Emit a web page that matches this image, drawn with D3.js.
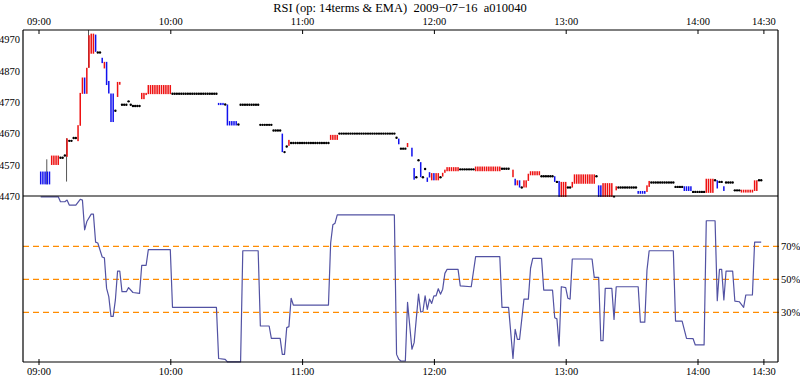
<!DOCTYPE html>
<html>
<head>
<meta charset="utf-8">
<script src="https://cdn.jsdelivr.net/npm/d3@7.9.0/dist/d3.min.js"></script>
<style>
  body { margin: 0; background: #fff; }
  svg { display: block; font-family: 'Liberation Serif', 'Times New Roman', serif; }
</style>
</head>
<body>
<svg id="chart" width="800" height="378"></svg>
<script>
const title = 'RSI (op: 14terms & EMA)  2009\u221207\u221216  a010040';
const timeTicks = ['09:00', '10:00', '11:00', '12:00', '13:00', '14:00', '14:30'];
const priceTicks = [4470, 4570, 4670, 4770, 4870, 4970];
const rsiLevels = [30, 50, 70];

// one bar per minute, written as runs: [minute after 09:00, bars in run, open, close]
const priceRuns = [
  [1, 5, 4549, 4508], [6, 4, 4570, 4600], [10, 2, 4593, 4593], [12, 1, 4600, 4600],
  [13, 1, 4596, 4655], [14, 2, 4647, 4647], [16, 2, 4656, 4656], [18, 1, 4646, 4697],
  [19, 1, 4695, 4800], [20, 1, 4797, 4849], [21, 1, 4849, 4797], [22, 1, 4797, 4880],
  [23, 1, 4880, 4984], [24, 2, 4925, 4989], [26, 1, 4986, 4931], [27, 2, 4929, 4929],
  [29, 1, 4912, 4895], [30, 1, 4878, 4899], [31, 1, 4899, 4825], [32, 1, 4838, 4798],
  [33, 2, 4798, 4707], [35, 1, 4743, 4743], [36, 1, 4787, 4835], [37, 1, 4826, 4835],
  [38, 3, 4762, 4762], [41, 1, 4773, 4773], [42, 1, 4762, 4762], [43, 4, 4758, 4758],
  [47, 2, 4780, 4800], [49, 1, 4793, 4800], [50, 11, 4796, 4825], [61, 21, 4797, 4797],
  [82, 3, 4768, 4761], [85, 1, 4763, 4763], [86, 1, 4763, 4696], [87, 4, 4710, 4696],
  [91, 1, 4699, 4699], [92, 9, 4762, 4762], [101, 6, 4698, 4698], [107, 4, 4680, 4680],
  [111, 1, 4670, 4611], [112, 1, 4611, 4611], [113, 1, 4629, 4629], [114, 1, 4631, 4650],
  [115, 18, 4640, 4640], [133, 4, 4650, 4666], [137, 26, 4670, 4670], [163, 1, 4657, 4657],
  [164, 1, 4654, 4636], [165, 3, 4622, 4622], [168, 1, 4627, 4640], [170, 1, 4625, 4597],
  [171, 1, 4560, 4523], [172, 1, 4531, 4531], [173, 1, 4585, 4585], [174, 1, 4579, 4531],
  [175, 1, 4531, 4531], [176, 1, 4557, 4557], [177, 1, 4530, 4516], [178, 1, 4547, 4530],
  [179, 1, 4521, 4544], [180, 1, 4544, 4521], [181, 2, 4521, 4544], [183, 1, 4531, 4531],
  [184, 1, 4533, 4545], [185, 1, 4545, 4555], [186, 6, 4550, 4563], [192, 7, 4556, 4556],
  [199, 12, 4550, 4565], [211, 4, 4558, 4558], [216, 1, 4531, 4555], [217, 1, 4526, 4505],
  [218, 1, 4505, 4521], [219, 1, 4521, 4498], [220, 1, 4498, 4498], [221, 2, 4498, 4521],
  [223, 1, 4519, 4542], [224, 5, 4537, 4550], [229, 6, 4534, 4534], [235, 1, 4534, 4516],
  [236, 1, 4516, 4516], [237, 1, 4519, 4468], [238, 3, 4468, 4516], [241, 2, 4498, 4498],
  [243, 1, 4498, 4516], [244, 10, 4510, 4540], [254, 1, 4534, 4534], [255, 2, 4505, 4468],
  [257, 5, 4468, 4512], [262, 1, 4468, 4468], [263, 1, 4489, 4502], [264, 9, 4498, 4498],
  [273, 4, 4487, 4478], [277, 1, 4484, 4505], [278, 1, 4500, 4519], [279, 11, 4514, 4514],
  [290, 4, 4500, 4500], [294, 4, 4502, 4487], [298, 6, 4484, 4484], [304, 4, 4481, 4526],
  [308, 1, 4521, 4521], [309, 1, 4521, 4495], [310, 2, 4516, 4516], [312, 1, 4502, 4487],
  [313, 4, 4514, 4514], [317, 3, 4489, 4489], [320, 6, 4482, 4491], [326, 2, 4487, 4521],
  [328, 2, 4521, 4521]
];
// wicks that reach past the bar: [minute, low, high]
const wicks = [[4, 4508, 4588], [13, 4517, 4655], [23, 4880, 5010]];

// RSI line vertices: [minute after 09:00, value %]
const rsiPoints = [
  [1, 100], [9, 100], [10, 97], [12, 97], [13, 98], [14, 95], [17, 95], [19, 98.5], [20, 98],
  [21, 80], [22, 85], [24, 89.5], [25, 89.5], [26, 72.5], [27, 72], [29, 63.5], [30, 63],
  [31, 44.5], [32, 39.5], [33, 27.5], [34, 27.5], [35, 37.5], [36, 55], [37, 55], [38, 42.5],
  [40, 42.5], [41, 45], [43, 42], [46, 41.5], [47, 58.5], [49, 58.5], [50, 68], [60, 68],
  [61, 33], [81, 33], [82, 2], [85, 1.5], [86, 0], [92, 0], [93, 67.3], [100, 67.3],
  [101, 21.7], [105, 21.7], [106, 14.2], [110, 14.2], [111, 4.5], [112, 4.5], [113, 20.7],
  [114, 21.3], [115, 38.5], [116, 34.4], [132, 34.4], [133, 72], [134, 83], [135, 84],
  [136, 89], [162, 89], [163, 4.5], [164, 1.5], [165, 0.5], [167, 0.5], [168, 36], [170, 7.6],
  [171, 11.6], [173, 41], [174, 30.2], [175, 30.5], [176, 40], [177, 31.8], [178, 38],
  [179, 35.4], [180, 40], [181, 40], [182, 44.3], [183, 41], [184, 44], [185, 53.6], [186, 56],
  [191, 56], [192, 46], [197, 45.5], [199, 63.7], [210, 63.7], [211, 33], [214, 33], [216, 2],
  [217, 19.7], [218, 13.6], [219, 13.6], [221, 38], [223, 38], [224, 56.7], [225, 62.7],
  [229, 62.7], [230, 43.5], [234, 43.5], [235, 26.7], [236, 26], [237, 9.6], [238, 45.5],
  [240, 45], [241, 38.5], [242, 38], [243, 62.3], [252, 62.3], [253, 51.2], [255, 51.2],
  [256, 12.8], [257, 12.8], [258, 44.5], [261, 44.5], [262, 25.7], [263, 45.5], [273, 45.5],
  [274, 24], [276, 24], [277, 55.6], [278, 67.3], [289, 67.3], [290, 24.7], [293, 24.7],
  [295, 14.2], [298, 14], [299, 10.2], [303, 10.2], [304, 85.5], [308, 85.5], [309, 37],
  [310, 56], [311, 56], [312, 37.5], [313, 55], [316, 55], [317, 36.8], [319, 36.4], [321, 33],
  [322, 40.5], [325, 40.5], [326, 72.5], [329, 72.5]
];

const svg = d3.select('#chart');
const xLeft = 23, xRight = 778, yTop = 30, yMid = 196, yBottom = 362;

const parse = d3.timeParse('%H:%M');
const t0 = parse('09:00');
const at = (m) => d3.timeMinute.offset(t0, m);

const x = d3.scaleTime().domain([t0, parse('14:30')]).range([38.5, 763.4]);
const yPrice = d3.scaleLinear().domain([4470, 4970]).range([196.3, 39.6]);
const yRsi = d3.scaleLinear().domain([0, 100]).range([361.8, 196.8]);

svg.append('rect').attr('width', 800).attr('height', 378).attr('fill', '#fff');

svg.append('text')
  .attr('x', 400).attr('y', 12)
  .attr('text-anchor', 'middle')
  .attr('font-size', 12.5)
  .style('white-space', 'pre')
  .text(title);

// --- price panel
svg.append('clipPath').attr('id', 'clipTop')
  .append('rect').attr('x', xLeft).attr('y', yTop).attr('width', xRight - xLeft).attr('height', yMid - yTop + 1.5);

let bars = [];
priceRuns.forEach(([m, n, o, c]) => {
  for (let i = 0; i < n; i++) bars.push({ m: m + i, o, c });
});

let gTop = svg.append('g').attr('clip-path', 'url(#clipTop)');

gTop.selectAll('line.wick')
  .data(wicks)
  .join('line')
  .attr('class', 'wick')
  .attr('x1', (d) => x(at(d[0])) - 0.5)
  .attr('x2', (d) => x(at(d[0])) - 0.5)
  .attr('y1', (d) => yPrice(d[1]))
  .attr('y2', (d) => yPrice(d[2]))
  .attr('stroke', '#555')
  .attr('stroke-width', 1);

gTop.selectAll('rect.bar')
  .data(bars.filter((d) => d.o !== d.c))
  .join('rect')
  .attr('class', 'bar')
  .attr('x', (d) => x(at(d.m)) - 0.75)
  .attr('width', 1.5)
  .attr('y', (d) => yPrice(Math.max(d.o, d.c)))
  .attr('height', (d) => Math.abs(yPrice(d.o) - yPrice(d.c)))
  .attr('fill', (d) => (d.c > d.o ? '#ee1111' : '#1111ee'));

gTop.selectAll('circle.flat')
  .data(bars.filter((d) => d.o === d.c))
  .join('circle')
  .attr('class', 'flat')
  .attr('cx', (d) => x(at(d.m)))
  .attr('cy', (d) => yPrice(d.o))
  .attr('r', 1.2)
  .attr('fill', '#000');

// --- RSI panel
svg.selectAll('line.level')
  .data(rsiLevels)
  .join('line')
  .attr('class', 'level')
  .attr('x1', xLeft).attr('x2', xRight + 3)
  .attr('y1', (d) => yRsi(d)).attr('y2', (d) => yRsi(d))
  .attr('stroke', '#ff8c00')
  .attr('stroke-width', 1.2)
  .attr('stroke-dasharray', '6,4');

let rsiLine = d3.line()
  .x((d) => x(at(d[0])))
  .y((d) => yRsi(d[1]));

svg.append('path')
  .attr('d', rsiLine(rsiPoints))
  .attr('fill', 'none')
  .attr('stroke', '#5252a3')
  .attr('stroke-width', 1.2)
  .attr('stroke-linejoin', 'round');

// --- axes
const tickDates = timeTicks.map(parse);

let axTop = svg.append('g')
  .attr('transform', `translate(0,${yTop})`)
  .call(d3.axisTop(x).tickValues(tickDates).tickFormat(d3.timeFormat('%H:%M')).tickSizeInner(-4).tickSizeOuter(0).tickPadding(5));

let axBottom = svg.append('g')
  .attr('transform', `translate(0,${yBottom})`)
  .call(d3.axisBottom(x).tickValues(tickDates).tickFormat(d3.timeFormat('%H:%M')).tickSizeInner(3).tickSizeOuter(0).tickPadding(3));
axBottom.selectAll('.tick line').attr('y1', -3);

let axLeft = svg.append('g')
  .attr('transform', `translate(${xLeft},0)`)
  .call(d3.axisLeft(yPrice).tickValues(priceTicks).tickFormat(d3.format('d')).tickSize(0).tickPadding(3));

let axRight = svg.append('g')
  .attr('transform', `translate(${xRight},0)`)
  .call(d3.axisRight(yRsi).tickValues(rsiLevels).tickFormat((d) => d + '%').tickSize(0).tickPadding(3));

[axTop, axBottom, axLeft, axRight].forEach((g) => {
  g.select('.domain').remove();
  g.attr('font-family', null).attr('font-size', 10.5);
  g.selectAll('text').attr('fill', '#000');
  g.selectAll('.tick line').attr('stroke', '#000');
});

// --- frame
let frame = [
  [xLeft, yTop, xRight, yTop],
  [xLeft, yMid, xRight, yMid],
  [xLeft, yBottom, xRight, yBottom],
  [xLeft, yTop, xLeft, yBottom],
  [xRight, yTop, xRight, yBottom]
];
svg.selectAll('line.frame')
  .data(frame)
  .join('line')
  .attr('class', 'frame')
  .attr('x1', (d) => d[0]).attr('y1', (d) => d[1])
  .attr('x2', (d) => d[2]).attr('y2', (d) => d[3])
  .attr('stroke', '#000')
  .attr('stroke-width', 1.2);
</script>
</body>
</html>
